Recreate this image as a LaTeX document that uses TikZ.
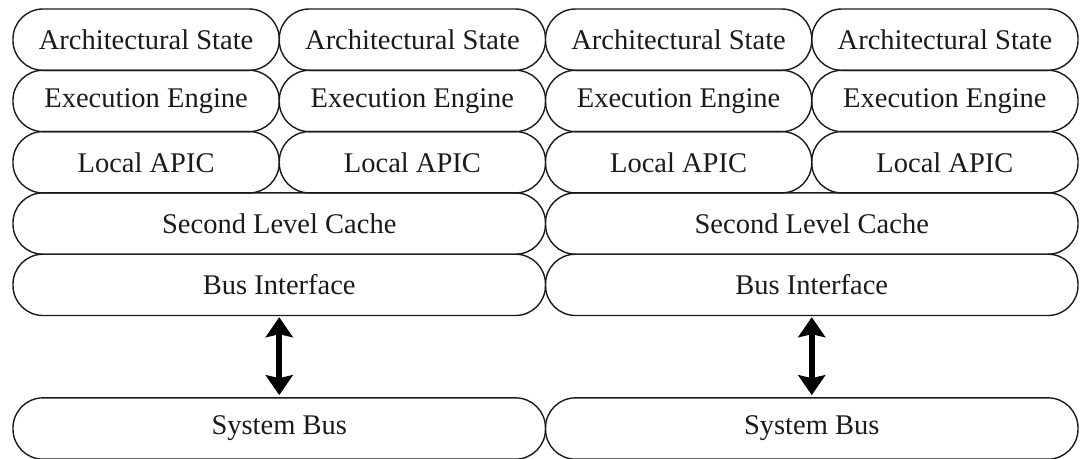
\documentclass[tikz,border=0pt]{standalone}
\usepackage{fontspec}
\setmainfont{Liberation Serif}
\usetikzlibrary{arrows.meta}
\definecolor{ink}{HTML}{1A1A1A}
\tikzset{
  blk/.style={draw=ink, line width=1.4pt, rectangle, rounded corners=30pt,
    minimum height=61.3pt, inner sep=0pt, text=ink,
    font=\fontsize{28.5}{31}\selectfont},
  qblk/.style={blk, minimum width=266.25pt},
  hblk/.style={blk, minimum width=532.5pt},
  busarrow/.style={line width=6pt, black,
    {Stealth[length=20pt,width=27pt,inset=3pt]}-{Stealth[length=20pt,width=27pt,inset=3pt]},
    shorten <=1pt, shorten >=2pt}
}
\begin{document}
\begin{tikzpicture}[x=1pt,y=-1pt]
  \useasboundingbox (0,0) rectangle (1081,458);
  % four logical processors: state, engine, APIC
  \foreach \c/\x in {1/146.1, 2/412.4, 3/678.6, 4/944.9}{
    \node[qblk] (as\c) at (\x, 39.65) {Architectural State};
    \node[qblk] (ee\c) at (\x, 100.95) {Execution Engine};
    \node[qblk] (la\c) at (\x, 162.25) {Local APIC};
  }
  % shared per-package blocks
  \foreach \p/\x in {1/279.25, 2/811.75}{
    \node[hblk] (slc\p) at (\x, 223.55) {Second Level Cache};
    \node[hblk] (bi\p) at (\x, 284.85) {Bus Interface};
    \node[hblk] (sb\p) at (\x, 428.5) {System Bus};
  }
  % bus connections
  \draw[busarrow] (bi1.south) -- (sb1.north);
  \draw[busarrow] (bi2.south) -- (sb2.north);
\end{tikzpicture}
\end{document}
